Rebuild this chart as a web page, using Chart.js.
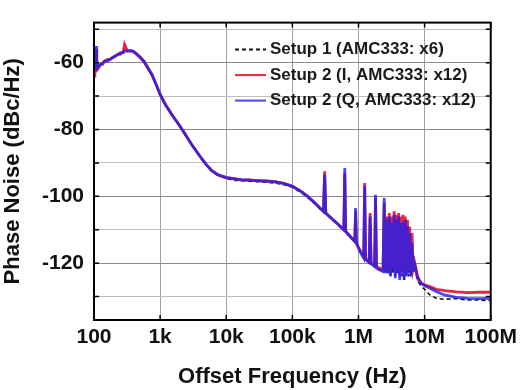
<!DOCTYPE html>
<html><head><meta charset="utf-8">
<script src="https://cdn.jsdelivr.net/npm/chart.js@4.4.1/dist/chart.umd.min.js"></script>
<style>html,body{margin:0;padding:0;background:#fff}#wrap{width:522px;height:390px}</style>
</head><body><div id="wrap"><canvas id="c" width="522" height="390"></canvas></div>
<script>
// Offset frequency (Hz)
const freqHz = [
  100,103,106,108,110,113,118,126,135,145,160,175,190,210,230,250,265,275,290,320,350,390,440,500,570,650,750,870,1000,
  1200,1500,2000,2500,3000,4000,5000,6000,7500,10000,13000,17000,22000,30000,40000,55000,75000,100000,130000,170000,220000,270000,
  295000,308000,320000,400000,500000,600000,620000,640000,750000,880000,905000,930000,1050000,1200000,1240000,1280000,1450000,1500000,1550000,1750000,1810000,1870000,2100000,2350000,2450000,2550000,
  2700000,2800000,2920000,3050000,3180000,3320000,3460000,3600000,3750000,3900000,4050000,4200000,4380000,4550000,4720000,4900000,5100000,5300000,5500000,5700000,5950000,6200000,6450000,6700000,
  7000000,7300000,7700000,8300000,9000000,10000000,12000000,15000000,20000000,30000000,45000000,65000000,100000000
];
// Setup 1 (AMC333: x6) phase noise, dBc/Hz
const setup1 = [
  -61.5,-60.5,-58.5,-57,-59.5,-61,-61,-60.5,-60,-59.5,-59.5,-59,-58.5,-58,-57.5,-57.5,-57,-57,-56.8,-56.5,-56.5,-56.7,-57.5,-58.5,-59.7,-61.7,-63.7,-66.7,-69.7,
  -72.7,-75.7,-79.2,-82.2,-84.7,-88.2,-90.7,-92.5,-93.8,-94.6,-95.2,-95.3,-95.5,-95.6,-95.8,-96,-96.5,-97.3,-98.6,-100.3,-102.3,-104,
  -104.7,-95,-105.2,-107,-108.7,-110.2,-94,-110.7,-112.2,-113.7,-106,-114.2,-116.5,-118.5,-99,-119,-120,-108,-120.3,-121,-102,-121.5,-122,-122.5,-104,-123,
  -108,-123,-107,-124,-108,-123,-107,-124,-108,-123,-107,-124,-109,-124,-108,-125,-108,-124,-110,-124,-112,-124,-115,-123,
  -121,-122.5,-124.5,-126,-127,-127.8,-129.5,-130.5,-130.8,-130.6,-131,-131,-131.2
];
// Setup 2 (I, AMC333: x12)
const setup2I = [
  -64,-62,-59,-56,-60,-62,-61.5,-60.5,-60,-59.5,-59,-59,-58.5,-58,-57.5,-57,-57,-57,-54.5,-56.5,-56.5,-56.7,-57.5,-58.5,-59.7,-61.5,-63.5,-66.5,-69.5,
  -72.5,-75.5,-79,-82,-84.5,-88,-90.5,-92.2,-93.6,-94.5,-94.6,-95.2,-95,-95.4,-95.3,-95.7,-96.1,-97,-98.3,-100,-102,-103.8,
  -104.5,-92.5,-105,-106.8,-108.5,-110,-93,-110.5,-112,-113.5,-104.5,-114,-116,-118,-96,-118.5,-119.5,-105,-120,-120.5,-100.5,-121,-121.5,-122,-102,-122.5,
  -106,-122,-105,-123,-106,-121,-104.5,-123,-105.5,-122,-105,-124,-106,-122,-105.5,-123.5,-106,-122.5,-107,-122,-109,-123,-111,-121.5,
  -119.5,-121,-123.5,-125,-126,-126.5,-127,-127.8,-128.2,-128.6,-128.8,-128.7,-128.7
];
// Setup 2 (Q, AMC333: x12)
const setup2Q = [
  -62,-61,-58,-55,-59,-61.5,-61,-60.5,-60.5,-59.5,-59.5,-59,-58.5,-58,-57.5,-57.5,-57,-57,-56.5,-56.5,-56.3,-56.5,-57.3,-58.3,-59.5,-61.5,-63.5,-66.5,-69.5,
  -72.5,-75.5,-79,-82,-84.5,-88,-90.5,-92.3,-93.5,-94.3,-94.8,-95,-95.2,-95.3,-95.5,-95.6,-96.2,-97,-98.3,-100,-102,-103.8,
  -104.5,-93.5,-105,-106.8,-108.5,-110,-91.5,-110.5,-112,-113.5,-103.5,-114,-116.5,-118.5,-97,-119,-119.8,-106,-120.2,-121,-99.5,-121.5,-122,-122.5,-100.5,-123,
  -107,-123,-106,-124,-108,-122,-105.5,-124.5,-107,-123,-106,-125,-108,-123.5,-107.5,-125,-107,-124,-109,-123,-111,-124,-114,-122.5,
  -120,-121.5,-124,-125.5,-126.2,-126.7,-127.5,-128.5,-129.5,-130.2,-130.5,-130.6,-130.5
];
const seriesLabels = ['Setup 1 (AMC333: x6)', 'Setup 2 (I, AMC333: x12)', 'Setup 2 (Q, AMC333: x12)'];
const xTickValues = [100, 1e3, 1e4, 1e5, 1e6, 1e7, 1e8];
const xTickLabels = ['100', '1k', '10k', '100k', '1M', '10M', '100M'];
const yTickValues = [-130, -120, -110, -100, -90, -80, -70, -60, -50];
const yLabelValues = [-120, -100, -80, -60];

const FONT = "'Liberation Sans', Arial, sans-serif";
const toPts = vals => freqHz.map((f, i) => ({x: f, y: vals[i]}));

const framePlugin = {
  id: 'frame',
  afterDraw(chart) {
    const ctx = chart.ctx;
    const {left, top, right, bottom} = chart.chartArea;
    const xs = chart.scales.x, ys = chart.scales.y;
    ctx.save();
    ctx.strokeStyle = '#000';
    ctx.lineWidth = 2;
    ctx.strokeRect(left, top, right - left, bottom - top);
    ctx.lineWidth = 1.5;
    ctx.beginPath();
    xs.ticks.forEach(t => {
      const p = xs.getPixelForValue(t.value);
      ctx.moveTo(p, bottom); ctx.lineTo(p, bottom - 5);
      ctx.moveTo(p, top); ctx.lineTo(p, top + 5);
    });
    ys.ticks.forEach(t => {
      const p = ys.getPixelForValue(t.value);
      ctx.moveTo(left, p); ctx.lineTo(left + 5, p);
      ctx.moveTo(right, p); ctx.lineTo(right - 5, p);
    });
    ctx.stroke();
    // legend inside plot area
    const x0 = left + 141, x1 = left + 172, tx = left + 176;
    ctx.font = 'bold 17px ' + FONT;
    ctx.textBaseline = 'middle';
    ctx.textAlign = 'left';
    chart.data.datasets.forEach((ds, i) => {
      const y = top + 27 + i * 25.5;
      ctx.strokeStyle = ds.borderColor;
      ctx.lineWidth = 2;
      ctx.setLineDash(ds.borderDash || []);
      ctx.beginPath(); ctx.moveTo(x0, y); ctx.lineTo(x1, y); ctx.stroke();
      ctx.setLineDash([]);
      ctx.fillStyle = '#1a1a1a';
      ctx.fillText(ds.label, tx, y);
    });
    ctx.restore();
  }
};

new Chart(document.getElementById('c'), {
  type: 'line',
  data: {
    datasets: [
      {label: seriesLabels[0], data: toPts(setup1), borderColor: '#111', borderWidth: 1.6, borderDash: [4, 3], order: 3},
      {label: seriesLabels[1], data: toPts(setup2I), borderColor: 'rgb(232,36,64)', borderWidth: 2.8, order: 2},
      {label: seriesLabels[2], data: toPts(setup2Q), borderColor: 'rgba(35,30,235,0.82)', borderWidth: 2.8, order: 1}
    ]
  },
  options: {
    responsive: false,
    animation: false,
    devicePixelRatio: 1,
    layout: {padding: {left: 0, top: 13, right: 28, bottom: 0}},
    elements: {point: {radius: 0}, line: {tension: 0}},
    plugins: {legend: {display: false}, tooltip: {enabled: false}},
    scales: {
      x: {
        type: 'logarithmic', min: 100, max: 1e8,
        afterBuildTicks: s => { s.ticks = xTickValues.map(v => ({value: v})); },
        afterFit: s => { s.height = 70; },
        ticks: {
          autoSkip: false, maxRotation: 0, padding: 5, color: '#111',
          font: {family: FONT, size: 21, weight: 'bold'},
          callback: (v, i) => xTickLabels[i]
        },
        grid: {color: '#a0a0a0', lineWidth: 1, drawTicks: false},
        border: {display: true, color: '#000', width: 2},
        title: {display: true, text: 'Offset Frequency (Hz)', color: '#111', padding: {top: 0, bottom: 0},
          font: {family: FONT, size: 22, weight: 'bold'}}
      },
      y: {
        type: 'linear', min: -137, max: -48,
        afterBuildTicks: s => { s.ticks = yTickValues.map(v => ({value: v})); },
        afterFit: s => { s.width = 94; },
        ticks: {
          padding: 10, color: '#111',
          font: {family: FONT, size: 21, weight: 'bold'},
          callback: v => yLabelValues.includes(v) ? String(v) : ''
        },
        grid: {
          color: c => (c.tick && yLabelValues.includes(c.tick.value)) ? '#8a8a8a' : '#bdbdbd',
          lineWidth: 1, drawTicks: false
        },
        border: {display: true, color: '#000', width: 2},
        title: {display: true, text: 'Phase Noise (dBc/Hz)', color: '#111', padding: {top: 0, bottom: 0},
          font: {family: FONT, size: 22, weight: 'bold'}}
      }
    }
  },
  plugins: [framePlugin]
});
</script>
</body></html>
